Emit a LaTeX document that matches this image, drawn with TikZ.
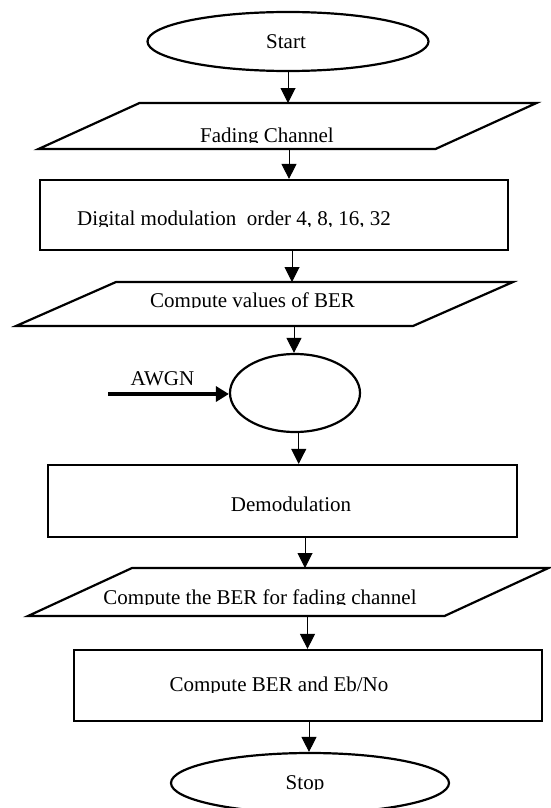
\documentclass[tikz,border=0pt]{standalone}
\usepackage{fontspec}
\setmainfont{Liberation Serif}
\usetikzlibrary{arrows.meta,shapes.geometric}

\tikzset{
  outline/.style={draw=black, line width=2.2pt, line join=miter},
  oval/.style={ellipse, outline, inner sep=0pt},
  procbox/.style={rectangle, outline, inner sep=0pt},
  iobody/.style={rectangle, inner sep=0pt, outer sep=0pt},
  flow/.style={line width=1pt, -{Triangle[width=15pt,length=15pt]}},
  feed/.style={line width=3.5pt, -{Triangle[width=15pt,length=13pt]}},
  txt/.style={font=\fontsize{21}{25}\selectfont, inner sep=0pt, anchor=base},
}

% label set on its baseline, with everything below the baseline cut off
\newcommand\cutlabel[4]{%
  \begin{scope}
    \clip (0,0) rectangle (551,#3+0.5);
    \node[txt] (#1) at (#2,#3) {#4};
  \end{scope}}

% slanted input/output box drawn round an invisible frame node
\newcommand\slantbox[2]{%
  \draw[outline] ([xshift=#2pt]#1.north west) -- ([xshift=#2pt]#1.north east)
    -- ([xshift=-#2pt]#1.south east) -- ([xshift=-#2pt]#1.south west) -- cycle;}

\begin{document}
\begin{tikzpicture}[x=1pt,y=-1pt]
\useasboundingbox (0,0) rectangle (551,808);

% shapes
\node[oval, minimum width=281pt, minimum height=59pt] (start) at (288,41.5) {};
\node[iobody, minimum width=397pt, minimum height=46pt] (fade) at (287.5,126) {};
\slantbox{fade}{50.5}
\node[procbox, minimum width=468pt, minimum height=70pt] (mod) at (274,215) {};
\node[iobody, minimum width=397pt, minimum height=44pt] (ber) at (264.5,304) {};
\slantbox{ber}{50}
\node[oval, minimum width=130pt, minimum height=78pt] (mix) at (295,393) {};
\node[procbox, minimum width=469pt, minimum height=72pt] (demod) at (282.5,501) {};
\node[iobody, minimum width=416.5pt, minimum height=48pt] (fber) at (288.25,592) {};
\slantbox{fber}{52}
\node[procbox, minimum width=468pt, minimum height=71pt] (ebno) at (308,685.5) {};
\node[oval, minimum width=278pt, minimum height=60pt] (stop) at (310,783) {};

% texts
\cutlabel{tstart}{286}{48.5}{Start}
\cutlabel{tfade}{267}{142}{Fading Channel}
\cutlabel{tmod}{234}{225.5}{Digital modulation~ order 4, 8, 16, 32}
\cutlabel{tber}{252.6}{307}{Compute values of BER}
\cutlabel{tawgn}{162.5}{385}{AWGN}
\cutlabel{tdemod}{291}{511.5}{Demodulation}
\cutlabel{tfber}{260}{604}{Compute the BER for fading channel}
\cutlabel{tebno}{279}{691.5}{Compute BER and Eb/No}
\cutlabel{tstop}{305}{789}{Stop}

% connectors
\draw[flow] (start.south) -- (start.south |- fade.north);
\draw[flow] ([xshift=1.5pt]fade.south) -- ([xshift=1.5pt]fade.south |- mod.north);
\draw[flow] ([xshift=18pt]mod.south) -- ([xshift=18pt]mod.south |- ber.north);
\draw[flow] ([xshift=29.5pt]ber.south) -- ([xshift=29.5pt]ber.south |- mix.north);
\draw[flow] ([xshift=3.7pt]mix.south) -- ([xshift=3.7pt]mix.south |- demod.north);
\draw[flow] ([xshift=22.5pt]demod.south) -- ([xshift=22.5pt]demod.south |- fber.north);
\draw[flow] ([xshift=19.25pt]fber.south) -- ([xshift=19.25pt]fber.south |- ebno.north);
\draw[flow] ([xshift=1pt]ebno.south) -- ([xshift=1pt]ebno.south |- stop.north);

% noise input
\coordinate (noise) at (108,394);
\draw[feed] (noise) -- (noise -| mix.west);
\end{tikzpicture}
\end{document}
